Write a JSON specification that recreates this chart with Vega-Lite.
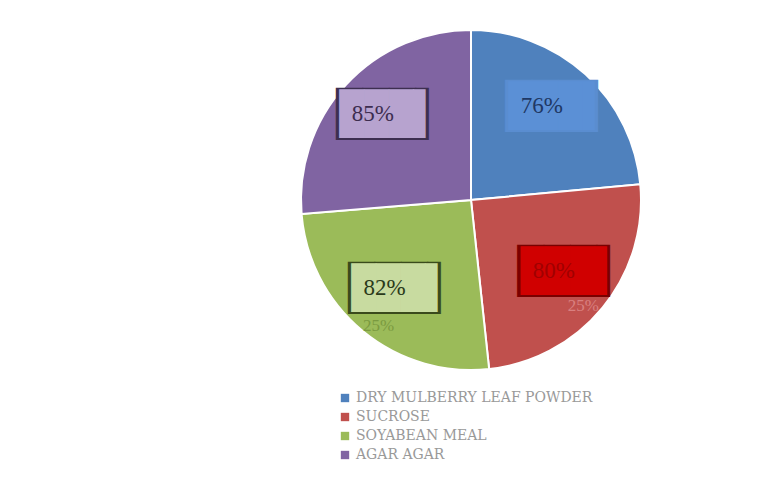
{
  "$schema": "https://vega.github.io/schema/vega-lite/v6.json",
  "width": 340,
  "height": 340,
  "padding": {"left": 297, "top": 26, "right": 4, "bottom": 4},
  "background": "white",
  "config": {"view": {"stroke": null}},
  "data": {"values": [
    {"category": "DRY MULBERRY LEAF POWDER", "value": 76, "label": "76%", "small": ""},
    {"category": "SUCROSE", "value": 80, "label": "80%", "small": "25%"},
    {"category": "SOYABEAN MEAL", "value": 82, "label": "82%", "small": "25%"},
    {"category": "AGAR AGAR", "value": 85, "label": "85%", "small": ""}
  ]},
  "transform": [{"window": [{"op": "row_number", "as": "idx"}]}],
  "encoding": {
    "theta": {"field": "value", "type": "quantitative", "stack": true},
    "order": {"field": "idx", "type": "quantitative"}
  },
  "resolve": {"scale": {"fill": "independent"}},
  "layer": [
    {
      "mark": {"type": "arc", "stroke": "white", "strokeWidth": 2, "radius": 170},
      "encoding": {
        "color": {
          "field": "category", "type": "nominal",
          "scale": {
            "domain": ["DRY MULBERRY LEAF POWDER", "SUCROSE", "SOYABEAN MEAL", "AGAR AGAR"],
            "range": ["#4f81bd", "#c0504d", "#9bbb59", "#8064a2"]
          },
          "legend": {
            "orient": "none", "legendX": 37, "legendY": 361,
            "title": null, "labelLimit": 400,
            "symbolType": "square", "symbolSize": 70, "symbolStrokeWidth": 0,
            "labelFont": "DejaVu Serif", "labelFontSize": 14, "labelColor": "#999999",
            "rowPadding": 5, "labelOffset": 4
          }
        }
      }
    },
    {
      "mark": {"type": "text", "radius": 120, "font": "DejaVu Sans Mono", "fontSize": 44, "text": "███▌", "baseline": "middle", "align": "center", "dx": 6.6, "dy": -3},
      "encoding": {
        "fill": {"field": "category", "type": "nominal", "scale": {"domain": ["DRY MULBERRY LEAF POWDER", "SUCROSE", "SOYABEAN MEAL", "AGAR AGAR"], "range": ["#5a8dd0", "#7a0000", "#3a4a1c", "#3d2f50"]}, "legend": null}
      }
    },
    {
      "mark": {"type": "text", "radius": 120, "font": "DejaVu Sans Mono", "fontSize": 41, "text": "███▌", "baseline": "middle", "align": "center", "dx": 6.2, "dy": -3},
      "encoding": {
        "fill": {"field": "category", "type": "nominal", "scale": {"domain": ["DRY MULBERRY LEAF POWDER", "SUCROSE", "SOYABEAN MEAL", "AGAR AGAR"], "range": ["#5b90d6", "#d00000", "#c8dba0", "#b7a3cf"]}, "legend": null}
      }
    },
    {
      "mark": {"type": "text", "radius": 120, "font": "Times New Roman, Liberation Serif, serif", "fontSize": 23, "dx": -10, "dy": -5},
      "encoding": {
        "text": {"field": "label"},
        "fill": {"field": "category", "type": "nominal", "scale": {"domain": ["DRY MULBERRY LEAF POWDER", "SUCROSE", "SOYABEAN MEAL", "AGAR AGAR"], "range": ["#1f3864", "#a00000", "#2a3a1a", "#3d2d4f"]}, "legend": null}
      }
    },
    {
      "mark": {"type": "text", "radius": 145, "font": "Times New Roman, Liberation Serif, serif", "fontSize": 17, "dy": 14},
      "encoding": {
        "text": {"field": "small"},
        "fill": {"field": "category", "type": "nominal", "scale": {"domain": ["DRY MULBERRY LEAF POWDER", "SUCROSE", "SOYABEAN MEAL", "AGAR AGAR"], "range": ["#4f81bd", "#d98080", "#7a9a40", "#8064a2"]}, "legend": null}
      }
    }
  ]
}
